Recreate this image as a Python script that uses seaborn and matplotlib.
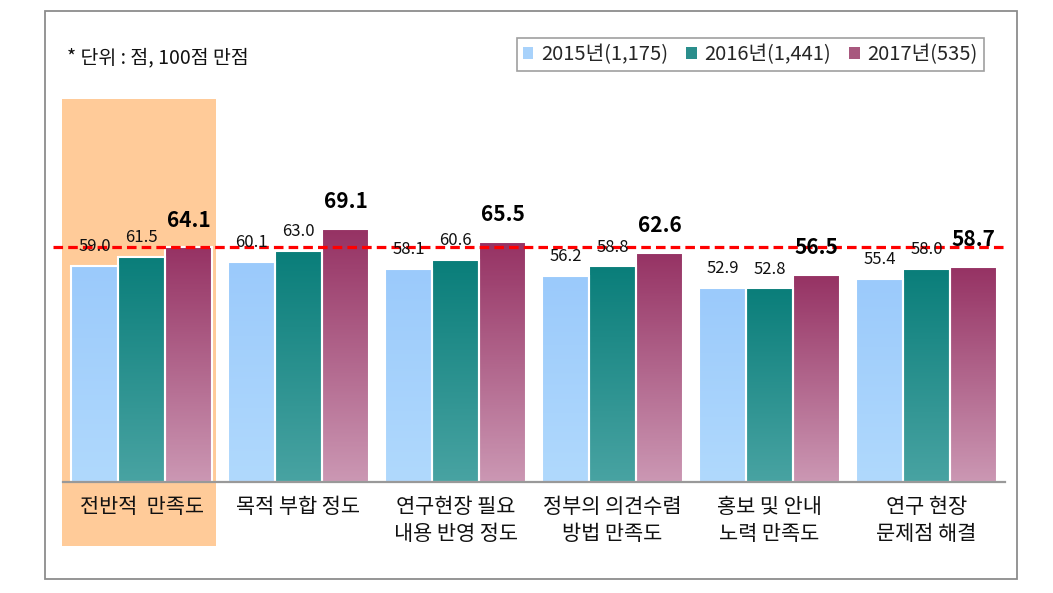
import numpy as np
import pandas as pd
import seaborn as sns
import matplotlib.pyplot as plt
from matplotlib.patches import Rectangle, Patch
from matplotlib.colors import LinearSegmentedColormap

# categories and series values
categories = ['전반적  만족도', '목적 부합 정도', '연구현장 필요\n내용 반영 정도',
              '정부의 의견수렴\n방법 만족도', '홍보 및 안내\n노력 만족도', '연구 현장\n문제점 해결']
years = ['2015년(1,175)', '2016년(1,441)', '2017년(535)']
v2015 = [59.0, 60.1, 58.1, 56.2, 52.9, 55.4]
v2016 = [61.5, 63.0, 60.6, 58.8, 52.8, 58.0]
v2017 = [64.1, 69.1, 65.5, 62.6, 56.5, 58.7]
ref_value = 64.1  # dashed reference line (overall satisfaction 2017)
unit_note = '* 단위 : 점, 100점 만점'

# gradient colours (top, bottom) per year
grad = [('#9bcafb', '#b0d9fd'), ('#0a7e7a', '#48a3a2'), ('#963364', '#cb97b3')]
legend_colors = ['#a8d2fb', '#2a8e8c', '#a8587e']

df = pd.DataFrame({
    'category': categories * 3,
    'year': [years[0]] * 6 + [years[1]] * 6 + [years[2]] * 6,
    'score': v2015 + v2016 + v2017,
})

sns.set_theme(style='white')
plt.rcParams['font.family'] = ['Noto Sans CJK KR', 'DejaVu Sans']

W, H = 1053, 593
fig = plt.figure(figsize=(W / 100, H / 100), dpi=100)
base_px = 481.7
px_per_unit = 3.66
ymax = 105
ax = fig.add_axes([63 / W, (H - base_px) / H, 942 / W, ymax * px_per_unit / H])

sns.barplot(data=df, x='category', y='score', hue='year', order=categories,
            hue_order=years, palette=[g[0] for g in grad], width=0.9,
            edgecolor='white', linewidth=1.5, legend=False, ax=ax, zorder=3)

# gradient fill inside each bar
for container, (c_top, c_bot) in zip(ax.containers, grad):
    cmap = LinearSegmentedColormap.from_list('g', [c_bot, c_top])
    for bar in container:
        x0, y0 = bar.get_x(), bar.get_y()
        w, h = bar.get_width(), bar.get_height()
        img = ax.imshow(np.linspace(0, 1, 100).reshape(-1, 1), cmap=cmap,
                        extent=[x0, x0 + w, y0, y0 + h], origin='lower',
                        aspect='auto', zorder=3.5)
        img.set_clip_path(bar)
        bar.set_facecolor('none')
        bar.set_zorder(4)
ax.set_xlim(-0.5, 5.5)
ax.set_ylim(0, ymax)

# highlight behind the first group
ax.add_patch(Rectangle((-0.506, -17.6), 0.98, 122.2, facecolor='#ffcb99',
                       edgecolor='none', zorder=0, clip_on=False))

# value labels
for i, container in enumerate(ax.containers):
    for bar in container:
        val = bar.get_height()
        xc = bar.get_x() + bar.get_width() / 2
        if i == 2:
            ax.annotate(f'{val:.1f}', (xc, val), xytext=(0, 19.5), textcoords='offset points',
                        ha='center', va='center', fontsize=15, fontweight='bold',
                        color='black', zorder=6)
        else:
            ax.annotate(f'{val:.1f}', (xc, val), xytext=(0, 14), textcoords='offset points',
                        ha='center', va='center', fontsize=12, color='#111111', zorder=6)

# reference line
ax.plot([-0.565, 5.5], [ref_value, ref_value], color='#ff0000', lw=2.3,
        linestyle=(0, (3, 1.6)), zorder=5, clip_on=False)

# axis styling
for s in ['top', 'right', 'left']:
    ax.spines[s].set_visible(False)
ax.spines['bottom'].set_color('#999999')
ax.spines['bottom'].set_linewidth(1.6)
ax.spines['bottom'].set_zorder(6)
ax.set_yticks([])
ax.set_xlabel('')
ax.set_ylabel('')
ax.set_xticks(range(len(categories)))
ax.set_xticklabels(categories, fontsize=15, linespacing=1.3, color='#111111')
ax.tick_params(axis='x', which='major', length=0, pad=10)
ax.set_xticks(np.arange(-0.5, 6, 1), minor=True)
ax.tick_params(axis='x', which='minor', length=5, width=1.6, color='#999999', direction='out')

# unit note
fig.text(67 / W, 1 - 58 / H, unit_note, fontsize=14, ha='left', va='center', color='#111111')

# legend
handles = [Patch(facecolor=c, edgecolor='none') for c in legend_colors]
leg = fig.legend(handles, years, loc='center', bbox_to_anchor=(750.5 / W, 1 - 54.5 / H),
                 ncol=3, fontsize=14.5, frameon=True, fancybox=False,
                 handlelength=0.5, handleheight=0.5, handletextpad=0.4,
                 columnspacing=0.9, borderpad=0.3, borderaxespad=0)
leg.get_frame().set_edgecolor('#888888')
leg.get_frame().set_linewidth(1.2)

# outer border
fig.patches.append(Rectangle((45 / W, 1 - 579 / H), 972 / W, 568 / H, transform=fig.transFigure,
                             facecolor='none', edgecolor='#8c8c8c', lw=1.3))

fig.savefig('out.png', dpi=100)
